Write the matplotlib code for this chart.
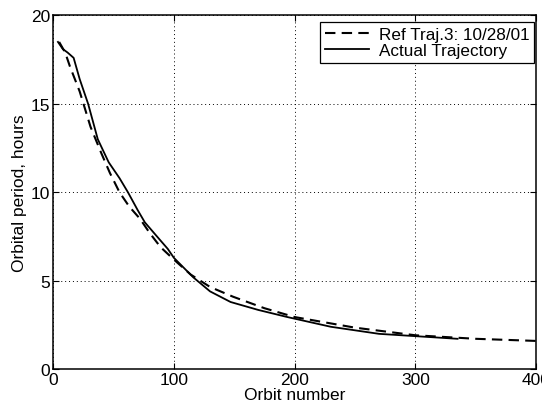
import matplotlib
matplotlib.use('Agg')
from matplotlib import pyplot as plt

# reference trajectory (dashed)
ref_orbit = [5, 10, 14, 22, 31, 40, 47, 55, 63, 72, 80, 89, 100, 114, 130,
             149, 175, 200, 250, 300, 350, 400]
ref_period = [18.5, 17.9, 17.1, 15.7, 13.7, 12.2, 11.1, 10.0, 9.2, 8.5, 7.7,
              6.9, 6.2, 5.35, 4.65, 4.1, 3.45, 2.95, 2.35, 1.92, 1.72, 1.6]

# flown trajectory (solid)
act_orbit = [4, 8, 12, 17, 22, 29, 37, 46, 55, 62, 70, 76, 88, 95, 100, 116,
             130, 147, 170, 194, 230, 270, 300, 335]
act_period = [18.5, 18.1, 17.9, 17.6, 16.4, 15.0, 13.0, 11.7, 10.8, 10.0, 9.0,
              8.3, 7.35, 6.8, 6.3, 5.2, 4.4, 3.8, 3.35, 2.95, 2.4, 2.0, 1.87,
              1.72]

xticks = [0, 100, 200, 300, 400]
yticks = [0, 5, 10, 15, 20]


def main():
    plt.rcParams['font.family'] = ['Liberation Sans', 'DejaVu Sans']

    fig = plt.figure(figsize=(5.42, 4.10), dpi=100)
    ax = fig.add_axes([0.098, 0.097, 0.891, 0.863])

    ax.plot(ref_orbit, ref_period, color='black', lw=1.5,
            linestyle=(0, (5, 3)), label='Ref Traj.3: 10/28/01')
    ax.plot(act_orbit, act_period, color='black', lw=1.3,
            label='Actual Trajectory')

    ax.set_xlim(0, 400)
    ax.set_ylim(0, 20)
    ax.set_xticks(xticks)
    ax.set_yticks(yticks)
    ax.grid(True, color='black', linestyle=(0, (1, 3)), linewidth=0.7)
    ax.tick_params(direction='in', top=True, right=True, length=4,
                   labelsize=12.5, pad=2)
    for s in ax.spines.values():
        s.set_linewidth(1.1)

    ax.set_xlabel('Orbit number', fontsize=12.5, labelpad=0)
    ax.set_ylabel('Orbital period, hours', fontsize=12.5, labelpad=3)

    leg = ax.legend(loc='upper right', bbox_to_anchor=(1.0, 0.985),
                    fontsize=12.3, handlelength=2.6, borderaxespad=0.1,
                    fancybox=False, framealpha=1, edgecolor='black',
                    borderpad=0.25, labelspacing=0.1, handletextpad=0.6)
    leg.get_frame().set_linewidth(0.9)

    fig.savefig('out.png', dpi=100)


if __name__ == '__main__':
    main()
